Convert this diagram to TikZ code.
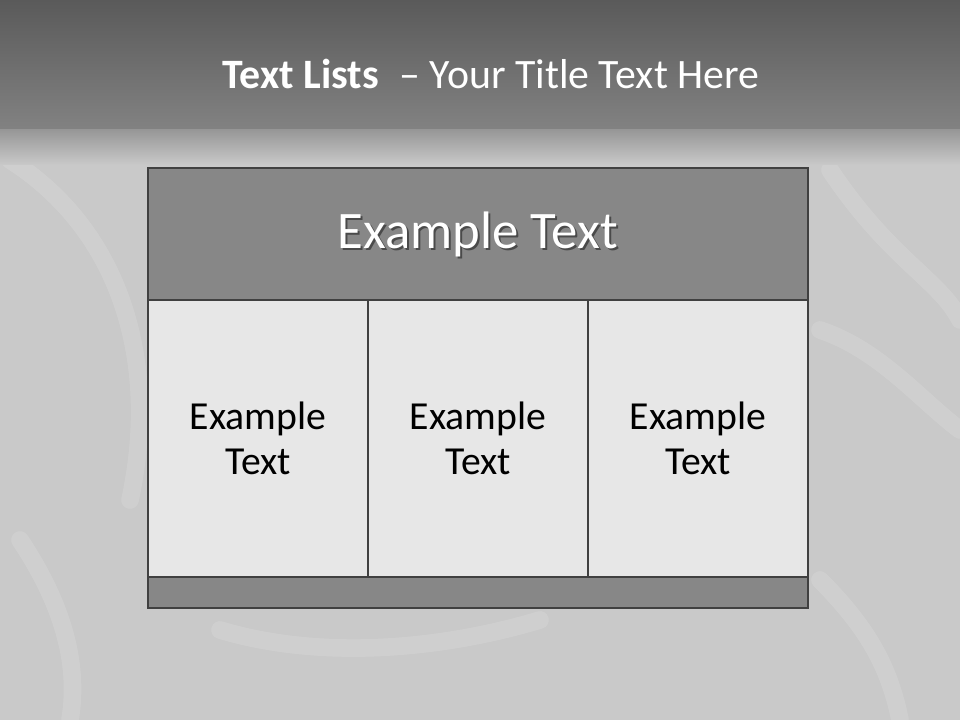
\documentclass[tikz,border=0pt]{standalone}
\usepackage{fontspec}
\setmainfont{Carlito}
\usetikzlibrary{positioning,shadows}
\definecolor{bandtop}{HTML}{5A5A5A}
\definecolor{bandlow}{HTML}{828282}
\definecolor{silk}{HTML}{C9C9C9}
\definecolor{frame}{HTML}{404040}
\definecolor{headfill}{HTML}{878787}
\definecolor{cellfill}{HTML}{E7E7E7}

\tikzset{
  headbox/.style={draw=frame,line width=0.8pt,fill=headfill,outer sep=0pt,
    minimum width=6.6cm,minimum height=1.32cm,text=white,font=\fontsize{15}{18}\selectfont},
  cellbox/.style={draw=frame,line width=0.8pt,fill=cellfill,outer sep=0pt,
    minimum width=2.2cm,minimum height=2.77cm,align=center,
    font=\fontsize{11.3}{12.8}\selectfont},
  footbox/.style={draw=frame,line width=0.8pt,fill=headfill,outer sep=0pt,
    minimum width=6.6cm,minimum height=0.31cm},
  fold/.style={white,opacity=0.13,line width=5pt,line cap=round}
}

\begin{document}
\begin{tikzpicture}
  \useasboundingbox (0,0) rectangle (9.6,7.2);
  \clip (0,0) rectangle (9.6,7.2);
  % backdrop
  \fill[silk] (0,0) rectangle (9.6,7.2);
  \draw[fold] (0.1,5.6) .. controls (1.2,4.9) and (1.6,3.6) .. (1.3,2.2);
  \draw[fold] (8.3,5.5) .. controls (8.9,4.6) and (9.4,4.4) .. (9.6,4.0);
  \draw[fold] (8.2,3.9) .. controls (8.8,3.7) and (9.2,3.2) .. (9.6,2.9);
  \draw[fold] (0.2,1.8) .. controls (0.6,1.2) and (0.8,0.6) .. (0.7,0.0);
  \draw[fold] (2.2,0.9) .. controls (3.2,0.6) and (4.4,0.7) .. (5.4,1.0);
  \draw[fold] (8.2,1.4) .. controls (8.7,0.9) and (8.9,0.5) .. (9.0,0.0);
  \shade[top color=bandtop,bottom color=bandlow] (0,5.9) rectangle (9.6,7.2);
  \shade[top color=bandlow!70!silk,bottom color=silk] (0,5.55) rectangle (9.6,5.9);

  % title
  \node[text=white,font=\fontsize{11.9}{14}\selectfont] (title) at (4.91,6.46)
    {\textbf{Text Lists}\enspace-- Your Title Text Here};

  % table
  \node[headbox,anchor=north west] (head) at (1.48,5.52) {};
  \node[text=black,opacity=0.45,font=\fontsize{15}{18}\selectfont] at ([shift={(0.02,-0.02)}]head.center) {Example Text};
  \node[text=white,font=\fontsize{15}{18}\selectfont] (headtxt) at (head.center) {Example Text};
  \node[cellbox,anchor=north west] (c1) at (head.south west) {Example\\Text};
  \node[cellbox,right=0pt of c1] (c2) {Example\\Text};
  \node[cellbox,right=0pt of c2] (c3) {Example\\Text};
  \node[footbox,anchor=north west] (foot) at (c1.south west) {};
\end{tikzpicture}
\end{document}
